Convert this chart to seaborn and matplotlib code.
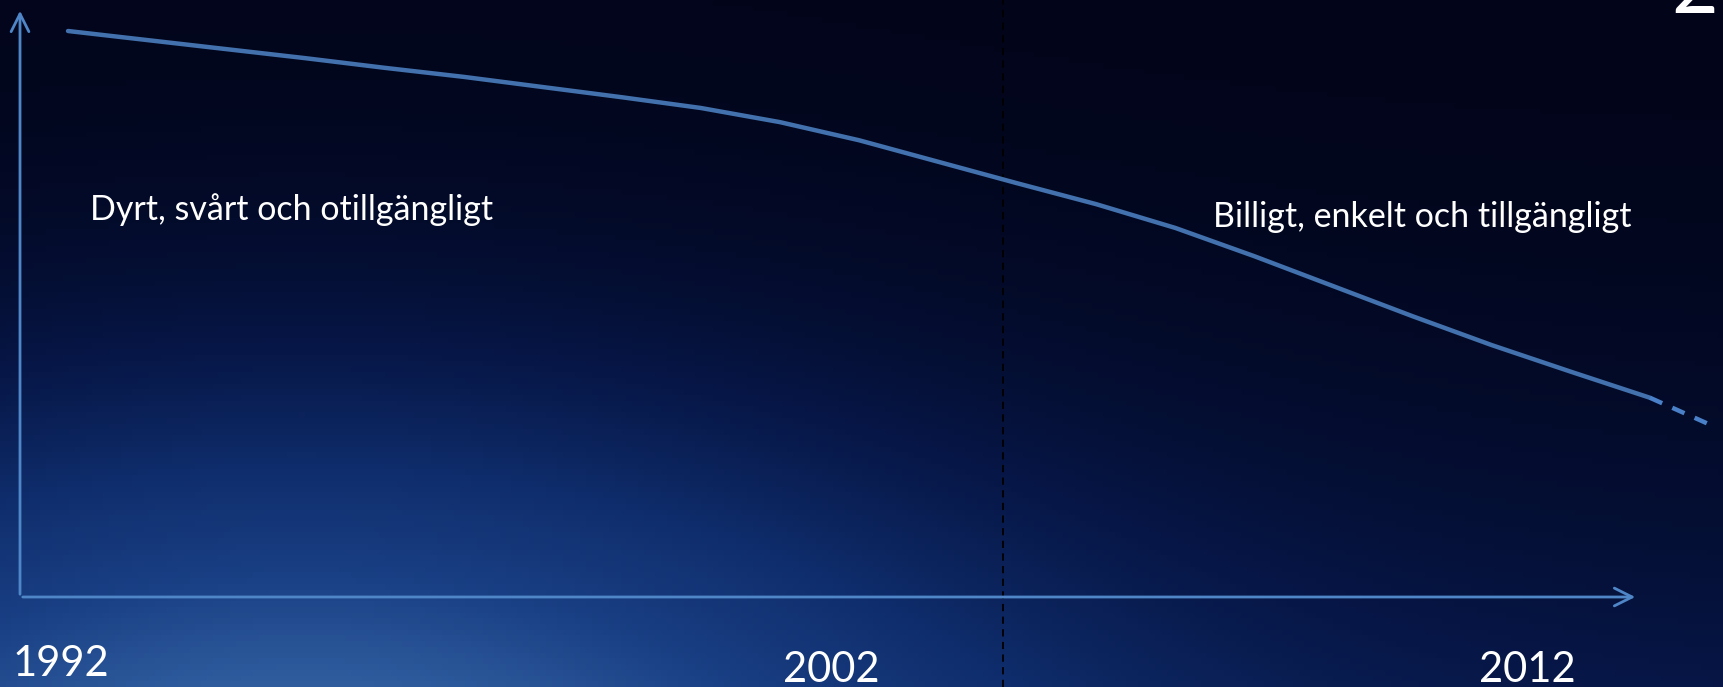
import numpy as np
import pandas as pd
import seaborn as sns
import matplotlib
matplotlib.use('Agg')
import matplotlib.pyplot as plt
from matplotlib.colors import LinearSegmentedColormap

# Data: cost index (1992 = 100)
years = list(range(1992, 2013))
cost = [100.0, 98.4, 96.8, 95.2, 93.5, 91.9, 90.1, 88.3, 86.4, 83.9, 80.7,
        76.9, 73.1, 69.4, 65.2, 60.2, 54.9, 49.6, 44.5, 39.8, 35.2]
# dashed forecast beyond the last point
future_years = [2012, 2012.83]
future_cost = [35.2, 30.0]
# year of the dashed vertical marker
marker_year = 2003.82
tick_labels = ['1992', '2002', '2012']
label_left = 'Dyrt, svårt och otillgängligt'
label_right = 'Billigt, enkelt och tillgängligt'

W, H = 1724, 687
sns.set_style('white')
plt.rcParams['font.family'] = ['Lato', 'DejaVu Sans']

fig = plt.figure(figsize=(W / 100, H / 100), dpi=100)
ax = fig.add_axes([0, 0, 1, 1])

# axis scales chosen so the slide geometry lines up
px_per_year = 79.1
px_per_unit = 5.66
x0 = 1992 - 68 / px_per_year
xlim = (x0, x0 + W / px_per_year)
ylim = (-(H - 597) / px_per_unit, 597 / px_per_unit)
ax.set_xlim(xlim)
ax.set_ylim(ylim)

# slide background gradient (dark navy with a blue glow bottom left)
gx, gy = np.meshgrid(np.linspace(0, W, 300), np.linspace(0, H, 120))
glow = np.exp(-((gx - 300) / 700) ** 2 - ((gy - 780) / 380) ** 2)
shade = 0.75 * glow + 0.25 * (gy / H) ** 2
bg_cmap = LinearSegmentedColormap.from_list(
    'bg', ['#02051a', '#061544', '#0f2d6c', '#1a4085', '#3363a3'])
ax.imshow(shade, cmap=bg_cmap, vmin=0, vmax=1, aspect='auto',
          extent=[xlim[0], xlim[1], ylim[0], ylim[1]], origin='upper', zorder=0)

df = pd.DataFrame({'year': years, 'cost': cost})
df_f = pd.DataFrame({'year': future_years, 'cost': future_cost})
sns.lineplot(data=df, x='year', y='cost', ax=ax, color='#4271ad', lw=3.2,
             zorder=3, solid_joinstyle='round')
sns.lineplot(data=df_f, x='year', y='cost', ax=ax, color='#4a80c8', lw=3.2,
             linestyle=(0, (3, 2.5)), zorder=3)

ax.axvline(marker_year, color='black', lw=1.3, ls=(0, (4, 3)), zorder=2)

# hand-drawn style axes with arrows
axis_col = '#4f86c8'
ax.annotate('', xy=(1638 / W, 1 - 597 / H), xytext=(20 / W, 1 - 597 / H),
            xycoords='axes fraction',
            arrowprops=dict(arrowstyle='->', color=axis_col, lw=2, mutation_scale=32))
ax.annotate('', xy=(20 / W, 1 - 8 / H), xytext=(20 / W, 1 - 597 / H),
            xycoords='axes fraction',
            arrowprops=dict(arrowstyle='->', color=axis_col, lw=2, mutation_scale=32))

for lab, px, py in zip(tick_labels, [13, 783, 1479], [676, 682, 682]):
    ax.text(px / W, 1 - py / H, lab, transform=ax.transAxes, color='white',
            fontsize=30, va='baseline', ha='left')

ax.text(90 / W, 1 - 220 / H, label_left, transform=ax.transAxes, color='white',
        fontsize=24.5, va='baseline', ha='left')
ax.text(1213 / W, 1 - 227 / H, label_right, transform=ax.transAxes, color='white',
        fontsize=24.5, va='baseline', ha='left')

# slide number, mostly cut off at the top edge
ax.text(1695 / W, 1 - 13 / H, '2', transform=ax.transAxes, color='white',
        fontsize=58, va='baseline', ha='center')

ax.set_axis_off()
fig.savefig('out.png', dpi=100)
